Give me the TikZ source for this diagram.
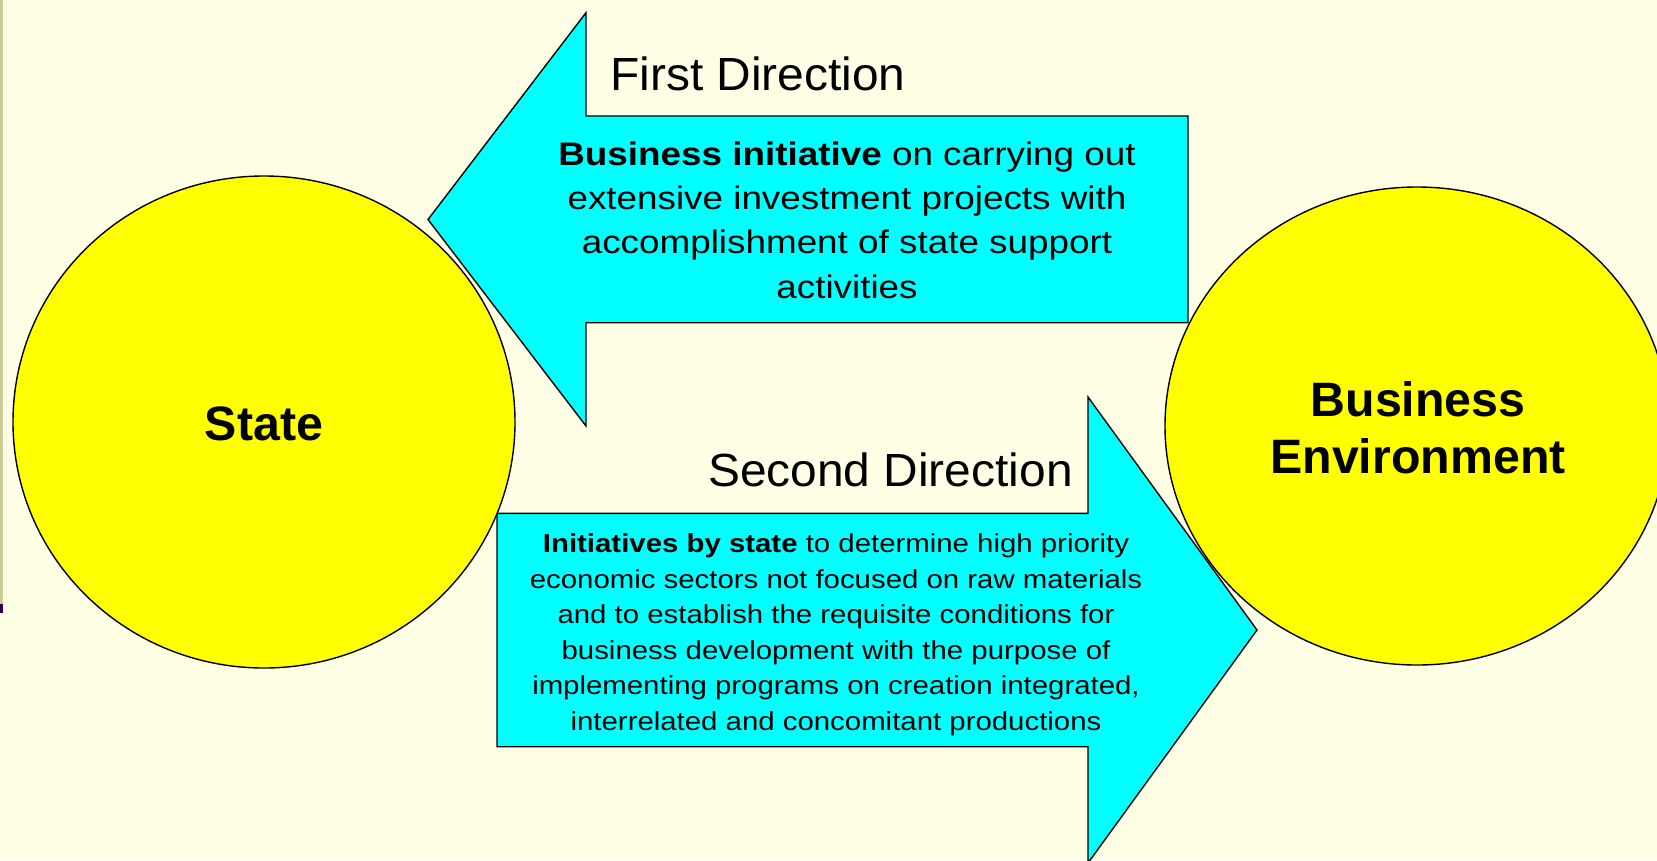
\documentclass[tikz,border=0pt]{standalone}
\usepackage{fontspec}
\setmainfont{Liberation Sans}
\newfontfamily\bodywide[FakeStretch=1.13]{Liberation Sans}
\newfontfamily\titlewide[FakeStretch=1.03]{Liberation Sans}
\usetikzlibrary{shapes.geometric}
\definecolor{bgcream}{HTML}{FFFFE5}
\definecolor{barkhaki}{HTML}{CCCC99}
\definecolor{markdark}{HTML}{330044}
\definecolor{arrowcyan}{HTML}{00FFFF}
\definecolor{circyellow}{HTML}{FFFF00}
\begin{document}
\begin{tikzpicture}[x=1pt,y=-1pt,
  blockarrow/.style={fill=arrowcyan,draw=black,line width=1.4pt,line join=miter},
  bubble/.style={fill=circyellow,draw=black,line width=1.4pt},
  titletext/.style={inner sep=0pt,font=\titlewide\fontsize{46.5}{56}\selectfont},
  bodyone/.style={inner sep=0pt,align=center,font=\bodywide\fontsize{32.6}{44.3}\selectfont},
  bodytwo/.style={inner sep=0pt,align=center,font=\bodywide\fontsize{26}{35.5}\selectfont},
  bubbletext/.style={inner sep=0pt,align=center,font=\fontsize{48.3}{56.3}\selectfont\bfseries}]
\useasboundingbox (0,0) rectangle (1657,860);
\fill[bgcream] (0,0) rectangle (1657,860);
% left bar
\fill[barkhaki] (0,0) rectangle (3,604);
\fill[markdark] (0,604) rectangle (3,613);
% arrows
\draw[blockarrow] (428,219.5) -- (586,12.7) -- (586,116) -- (1188,116) -- (1188,322.7)
  -- (586,322.7) -- (586,426) -- cycle;
\draw[blockarrow] (1257,630) -- (1088,397) -- (1088,513.3) -- (497,513.3) -- (497,746.7)
  -- (1088,746.7) -- (1088,863) -- cycle;
% circles
\node[bubble,ellipse,minimum width=502pt,minimum height=492pt,inner sep=0pt] (state) at (264,422) {};
\node[bubble,ellipse,minimum width=504pt,minimum height=478pt,inner sep=0pt] (benv) at (1417,426) {};
\node[bubbletext,anchor=base] (statelbl) at (264,440.5) {State};
\node[bubbletext,anchor=base] (benvlbl) at (1418,473) {Business\\Environment};
% texts
\node[titletext,anchor=base west] (first) at (610,90) {First Direction};
\node[titletext,anchor=base east] (second) at (1073,486) {Second Direction};
\node[bodyone,anchor=base] (bodyA) at (847,298) {\textbf{Business initiative} on carrying out\\extensive investment projects with\\accomplishment of state support\\activities};
\node[bodytwo,anchor=base] (bodyB) at (836,730.2) {\textbf{Initiatives by state} to determine high priority\\economic sectors not focused on raw materials\\and to establish the requisite conditions for\\business development with the purpose of\\implementing programs on creation integrated,\\interrelated and concomitant productions};
\end{tikzpicture}
\end{document}
